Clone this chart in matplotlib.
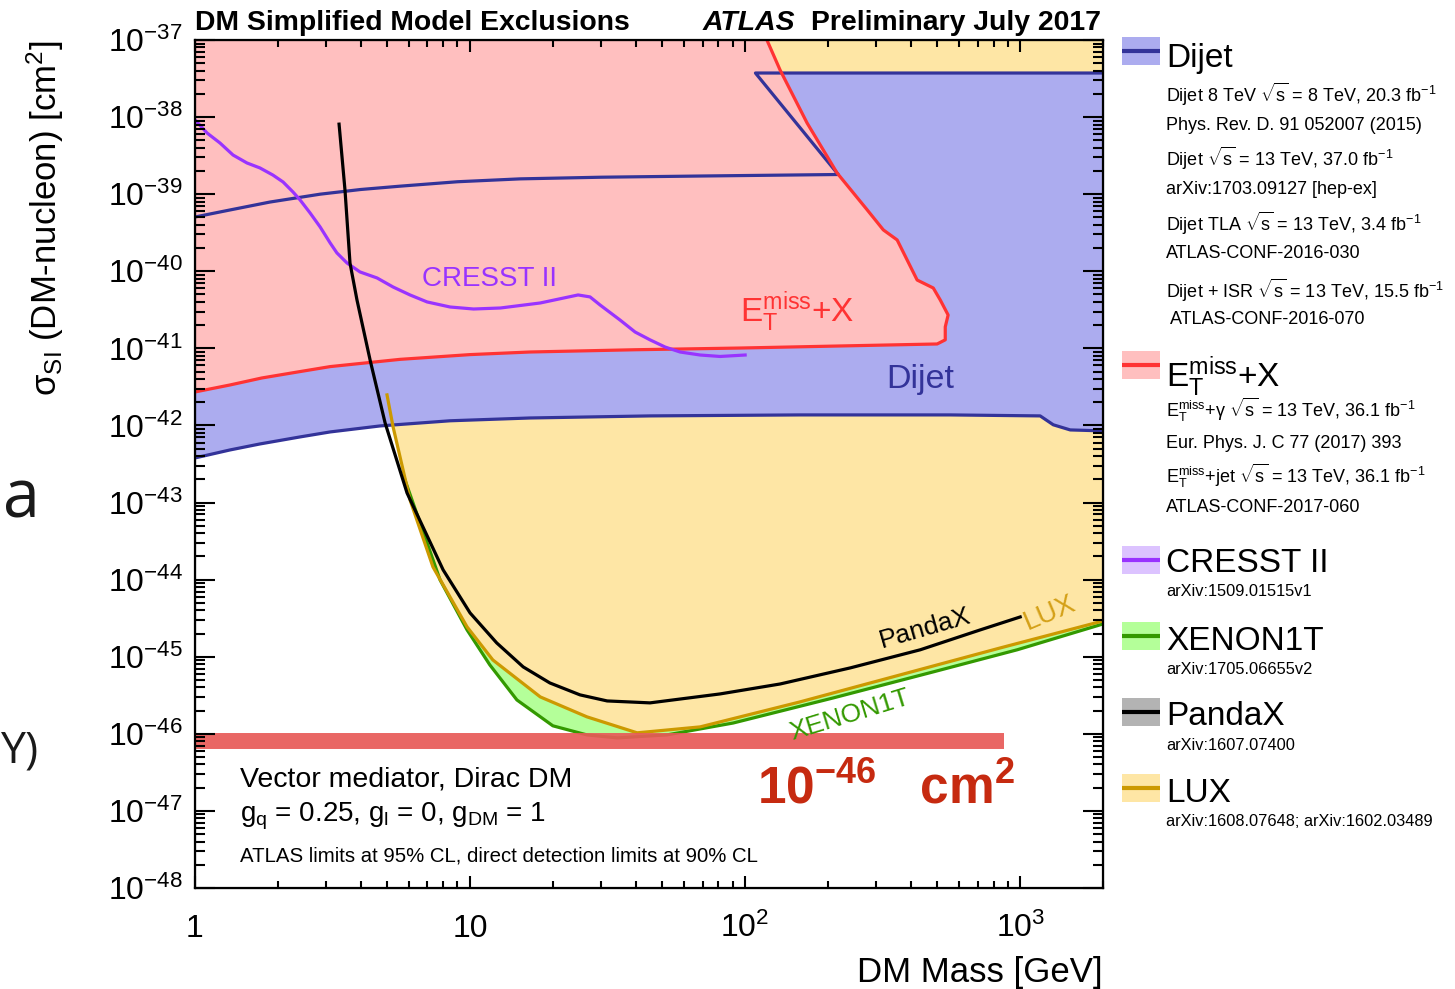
#!/usr/bin/env python3
"""
DM simplified model exclusions (vector mediator, Dirac DM) compared with
direct detection limits on the spin-independent DM-nucleon cross section.
"""

import numpy as np
import matplotlib
matplotlib.use('Agg')
import matplotlib.pyplot as plt
from matplotlib.patches import Rectangle
from matplotlib.ticker import FixedLocator, LogLocator, NullFormatter

# ---- limit curves: DM mass [GeV] vs sigma_SI [cm^2] ----
dijet_low_mass = [1.0, 1.34, 1.72, 2.41, 3.10, 4.71, 8.46, 16.5, 45.1, 158,
                  556, 1182, 1319, 1520, 2000]
dijet_low_xsec = [3.79e-43, 4.81e-43, 5.75e-43, 7.10e-43, 8.24e-43, 9.86e-43,
                  1.15e-42, 1.25e-42, 1.33e-42, 1.37e-42, 1.37e-42, 1.33e-42,
                  1.02e-42, 8.75e-43, 8.5e-43]
dijet_up_mass = [1.0, 1.34, 1.87, 2.85, 4.0, 5.56, 9.0, 15.2, 30, 68.6, 218,
                 109, 2000]
dijet_up_xsec = [5.06e-40, 6.24e-40, 7.9e-40, 1.0e-39, 1.15e-39, 1.27e-39,
                 1.45e-39, 1.58e-39, 1.66e-39, 1.72e-39, 1.80e-39, 3.73e-38,
                 3.73e-38]

met_mass = [1.0, 1.34, 1.75, 2.41, 3.10, 5.56, 10.0, 16.5, 40, 95.9, 499,
            534, 534, 547, 512, 483, 422, 357, 318, 278, 216, 168, 134, 120]
met_xsec = [2.72e-42, 3.35e-42, 4.13e-42, 5.0e-42, 5.8e-42, 7.2e-42, 8.3e-42,
            8.97e-42, 9.6e-42, 1.01e-41, 1.14e-41, 1.29e-41, 1.90e-41,
            2.71e-41, 4.25e-41, 6.07e-41, 7.70e-41, 2.55e-40, 3.44e-40,
            6.24e-40, 1.88e-39, 8.37e-39, 4.08e-38, 1e-37]

cresst_mass = [1.0, 1.106, 1.233, 1.375, 1.545, 1.722, 1.92, 2.09, 2.27, 2.41,
               2.62, 2.85, 3.10, 3.28, 3.57, 3.98, 4.59, 5.25, 6.05, 6.98,
               8.46, 10.3, 12.9, 18.0, 24.7, 27.3, 29.7, 35.1, 39.8, 45.1,
               51.2, 58.0, 68.6, 81.1, 100]
cresst_xsec = [9.2e-39, 6.22e-39, 4.61e-39, 3.22e-39, 2.54e-39, 2.19e-39,
               1.77e-39, 1.44e-39, 1.07e-39, 8.42e-40, 5.71e-40, 3.76e-40,
               2.33e-40, 1.73e-40, 1.28e-40, 9.8e-41, 8.19e-41, 6.25e-41,
               4.93e-41, 4.0e-41, 3.44e-41, 3.24e-41, 3.34e-41, 3.88e-41,
               4.93e-41, 4.65e-41, 3.65e-41, 2.33e-41, 1.63e-41, 1.29e-41,
               1.04e-41, 8.97e-42, 8.2e-42, 7.85e-42, 8.2e-42]

pandax_mass = [3.34, 3.51, 3.66, 3.88, 4.33, 4.91, 5.90, 7.98, 10.0, 12.5,
               15.6, 19.5, 25.1, 31.5, 45.1, 81, 134, 241, 433, 716, 1000]
pandax_xsec = [8.1e-39, 1.13e-39, 1.28e-40, 4.25e-41, 7.08e-42, 1.08e-42,
               1.33e-43, 1.34e-44, 3.70e-45, 1.51e-45, 7.38e-46, 4.57e-46,
               3.20e-46, 2.67e-46, 2.52e-46, 3.29e-46, 4.43e-46, 7.16e-46,
               1.23e-45, 2.23e-45, 3.28e-45]

lux_mass = [4.99, 5.25, 6.05, 7.33, 9.75, 12.1, 18.0, 26.6, 40.5, 68.6, 158,
            366, 846, 2000]
lux_xsec = [2.49e-42, 9.57e-43, 1.08e-43, 1.46e-44, 2.44e-45, 9.08e-46,
            3.01e-46, 1.66e-46, 1.03e-46, 1.23e-46, 2.59e-46, 5.81e-46,
            1.30e-45, 2.91e-45]

xenon_mass = [5.80, 7.78, 9.75, 11.8, 14.8, 20.0, 26.6, 34.3, 52, 90.4, 209,
              483, 975, 2000]
xenon_xsec = [1.96e-43, 9.91e-45, 2.23e-45, 7.83e-46, 2.75e-46, 1.27e-46,
              9.68e-47, 8.85e-47, 9.68e-47, 1.38e-46, 2.92e-46, 6.36e-46,
              1.23e-45, 2.66e-45]

# hand-drawn reference line near 1e-46
mark_mass = [1.01, 875]
mark_xsec = [8.1e-47, 8.1e-47]

x_ticks = [1, 10, 100, 1000]
x_ticklabels = ['1', '10', '$10^{2}$', '$10^{3}$']
y_exponents = list(range(-48, -36))

X_MIN, X_MAX = 1.0, 2000.0
Y_MIN, Y_MAX = 1e-48, 1e-37

# colours
C_DIJET, F_DIJET = '#333399', '#acacef'
C_MET, F_MET = '#ff3333', '#ffbfbf'
C_CRESST, F_CRESST = '#9933ff', '#dcc3ff'
C_XENON, F_XENON = '#339900', '#b4ff99'
C_PANDA, F_PANDA = '#000000', '#b3b3b3'
C_LUX, F_LUX = '#cc9900', '#fee6a5'

plt.rcParams['font.family'] = ['Liberation Sans', 'DejaVu Sans']
plt.rcParams['mathtext.fontset'] = 'custom'
plt.rcParams['mathtext.rm'] = 'Liberation Sans'
plt.rcParams['mathtext.it'] = 'Liberation Sans:italic'
plt.rcParams['mathtext.bf'] = 'Liberation Sans:bold'
plt.rcParams['mathtext.sf'] = 'Liberation Sans'

W, H = 1455, 989
fig = plt.figure(figsize=(W / 100, H / 100), dpi=100)
fig.patch.set_facecolor('white')

# main frame (pixel box 195..1103 x 40..888)
rect = [195 / W, 1 - 888 / H, (1103 - 195) / W, (888 - 40) / H]
ax = fig.add_axes(rect, zorder=1)
ax.set_xscale('log')
ax.set_yscale('log')
ax.set_xlim(X_MIN, X_MAX)
ax.set_ylim(Y_MIN, Y_MAX)

# filled exclusion regions (drawn bottom to top)
ax.fill_between(xenon_mass, xenon_xsec, Y_MAX, color=F_XENON, lw=0, zorder=0.5)
ax.fill_between(lux_mass, lux_xsec, Y_MAX, color=F_LUX, lw=0, zorder=0.6)
ax.fill(dijet_low_mass + dijet_up_mass[::-1], dijet_low_xsec + dijet_up_xsec[::-1],
        color=F_DIJET, lw=0, zorder=0.7)
ax.fill(met_mass + [X_MIN], met_xsec + [Y_MAX], color=F_MET, lw=0, zorder=0.8)

# contour lines
lw = 2.3
ax.plot(dijet_low_mass, dijet_low_xsec, color=C_DIJET, lw=lw, zorder=5)
ax.plot(dijet_up_mass, dijet_up_xsec, color=C_DIJET, lw=lw, zorder=5)
ax.plot(met_mass, met_xsec, color=C_MET, lw=lw, zorder=6)
ax.plot(cresst_mass, cresst_xsec, color=C_CRESST, lw=lw, zorder=7)
ax.plot(xenon_mass, xenon_xsec, color=C_XENON, lw=lw, zorder=6)
ax.plot(lux_mass, lux_xsec, color=C_LUX, lw=lw, zorder=7)
ax.plot(pandax_mass, pandax_xsec, color=C_PANDA, lw=lw, zorder=8)

# red marker band
ax.plot(mark_mass, mark_xsec, color='#e85a58', lw=11.5, alpha=0.92,
        solid_capstyle='butt', zorder=9)

# in-plot labels
ax.text(11.8, 7.9e-41, 'CRESST II', color=C_CRESST, fontsize=20,
        ha='center', va='center', zorder=10)
ax.text(155, 2.96e-41, r'$\mathrm{E_{T}^{miss}}$+X', color=C_MET, fontsize=24,
        ha='center', va='center', zorder=10)
ax.text(433, 3.89e-42, 'Dijet', color=C_DIJET, fontsize=24.5,
        ha='center', va='center', zorder=10)
ax.text(452, 2.37e-45, 'PandaX', color=C_PANDA, fontsize=19, rotation=16,
        ha='center', va='center', zorder=10)
ax.text(1285, 3.7e-45, 'LUX', color='#d4a017', fontsize=20, rotation=23,
        ha='center', va='center', zorder=10)
ax.text(241, 1.76e-46, 'XENON1T', color=C_XENON, fontsize=19, rotation=17,
        ha='center', va='center', zorder=10)

ax.text(0.0496, 0.1285, 'Vector mediator, Dirac DM', transform=ax.transAxes,
        fontsize=20.5, ha='left', va='center', zorder=10)
ax.text(0.0496, 0.0849, r'g$_{\mathrm{q}}$ = 0.25, g$_{\mathrm{l}}$ = 0, g$_{\mathrm{DM}}$ = 1',
        transform=ax.transAxes, fontsize=20, ha='left', va='center', zorder=10)
ax.text(0.0496, 0.0377, 'ATLAS limits at 95% CL, direct detection limits at 90% CL',
        transform=ax.transAxes, fontsize=14.7, ha='left', va='center', zorder=10)
ax.text(0.619, 0.1156, r'$\mathbf{10^{-46}\ \ \ cm^{2}}$', transform=ax.transAxes,
        color='#c62a10', fontsize=37, ha='left', va='center', zorder=10)
ax.set_xticks([])
ax.set_yticks([])
ax.minorticks_off()

# transparent twin frame on top carries the ticks and labels
axt = fig.add_axes(rect, zorder=2)
axt.patch.set_alpha(0)
axt.set_xscale('log')
axt.set_yscale('log')
axt.set_xlim(X_MIN, X_MAX)
axt.set_ylim(Y_MIN, Y_MAX)
axt.xaxis.set_major_locator(FixedLocator(x_ticks))
axt.set_xticklabels(x_ticklabels)
axt.xaxis.set_minor_locator(LogLocator(base=10, subs=np.arange(2, 10), numticks=50))
axt.xaxis.set_minor_formatter(NullFormatter())
axt.yaxis.set_major_locator(FixedLocator([10.0 ** e for e in y_exponents]))
axt.set_yticklabels(['$10^{%d}$' % e for e in y_exponents])
axt.yaxis.set_minor_locator(LogLocator(base=10, subs=np.arange(2, 10), numticks=100))
axt.yaxis.set_minor_formatter(NullFormatter())

axt.tick_params(which='both', direction='in', top=True, right=True, width=1.5,
                color='black')
axt.tick_params(axis='x', which='major', length=8.6, labelsize=23, pad=35)
axt.tick_params(axis='x', which='minor', length=5)
axt.tick_params(axis='y', which='major', length=14.4, labelsize=23, pad=8.6)
axt.tick_params(axis='y', which='minor', length=7.2)
for t in axt.xaxis.get_major_ticks():
    t.label1.set_verticalalignment('baseline')
for sp in axt.spines.values():
    sp.set_linewidth(1.6)

# overlay in pixel coordinates for titles, axis titles and legend
ov = fig.add_axes([0, 0, 1, 1], zorder=3)
ov.set_xlim(0, W)
ov.set_ylim(H, 0)
ov.axis('off')

ov.text(195, 30, 'DM Simplified Model Exclusions', fontsize=20.4,
        fontweight='bold', ha='left', va='baseline')
ov.text(703, 30, 'ATLAS', fontsize=20.4, fontweight='bold', fontstyle='italic',
        ha='left', va='baseline')
ov.text(1101, 30, 'Preliminary July 2017', fontsize=20.4, fontweight='bold',
        ha='right', va='baseline')

ov.text(45, 40, r'σ$_{\mathrm{SI}}$ (DM-nucleon) [cm$^{2}$]', fontsize=25,
        rotation=90, ha='center', va='top')
ov.text(1103, 982, 'DM Mass [GeV]', fontsize=25, ha='right', va='baseline')

# fragments of surrounding slide text at the left edge
ov.text(3, 517, 'a', fontsize=48, family='Open Sans', color='#1a1a1a',
        ha='left', va='baseline')
ov.text(1, 762, 'Y)', fontsize=32, family='Open Sans', color='#1a1a1a',
        ha='left', va='baseline')

# legend
def legend_box(yc, face, line):
    ov.add_patch(Rectangle((1122, yc - 14), 38, 28, facecolor=face,
                           edgecolor='none'))
    ov.plot([1122, 1160], [yc, yc], color=line, lw=3.0, solid_capstyle='butt')

sqs = r'$\sqrt{\mathrm{s}}$'
fb = r'fb$^{-1}$'
met = r'$\mathrm{E_{T}^{miss}}$'

# (patch centre, text baseline, name, fill, line)
headers = [
    (51, 67, 'Dijet', F_DIJET, C_DIJET),
    (365, 387, met + '+X', F_MET, C_MET),
    (560, 572, 'CRESST II', F_CRESST, C_CRESST),
    (636, 650, 'XENON1T', F_XENON, C_XENON),
    (712, 725, 'PandaX', F_PANDA, C_PANDA),
    (788, 802, 'LUX', F_LUX, C_LUX),
]
for yc, yb, name, face, line in headers:
    legend_box(yc, face, line)
    ov.text(1166, yb, name, fontsize=24, ha='left', va='baseline')

refs = [
    (94, 'Dijet 8 TeV ' + sqs + ' = 8 TeV, 20.3 ' + fb, 13),
    (126, 'Phys. Rev. D. 91 052007 (2015)', 13),
    (158, 'Dijet ' + sqs + ' = 13 TeV, 37.0 ' + fb, 13),
    (189, 'arXiv:1703.09127 [hep-ex]', 13),
    (223, 'Dijet TLA ' + sqs + ' = 13 TeV, 3.4 ' + fb, 13),
    (254, 'ATLAS-CONF-2016-030', 13),
    (290, 'Dijet + ISR ' + sqs + ' = 13 TeV, 15.5 ' + fb, 13),
    (320, ' ATLAS-CONF-2016-070', 13),
    (410, met + '+γ ' + sqs + ' = 13 TeV, 36.1 ' + fb, 13),
    (444, 'Eur. Phys. J. C 77 (2017) 393', 13),
    (476, met + '+jet ' + sqs + ' = 13 TeV, 36.1 ' + fb, 13),
    (508, 'ATLAS-CONF-2017-060', 13),
    (591, 'arXiv:1509.01515v1', 11.8),
    (669, 'arXiv:1705.06655v2', 11.8),
    (745, 'arXiv:1607.07400', 11.8),
    (821, 'arXiv:1608.07648; arXiv:1602.03489', 11.8),
]
for yc, txt, fs in refs:
    ov.text(1166, yc, txt, fontsize=fs, ha='left', va='center')

plt.savefig('out.png', dpi=100)
